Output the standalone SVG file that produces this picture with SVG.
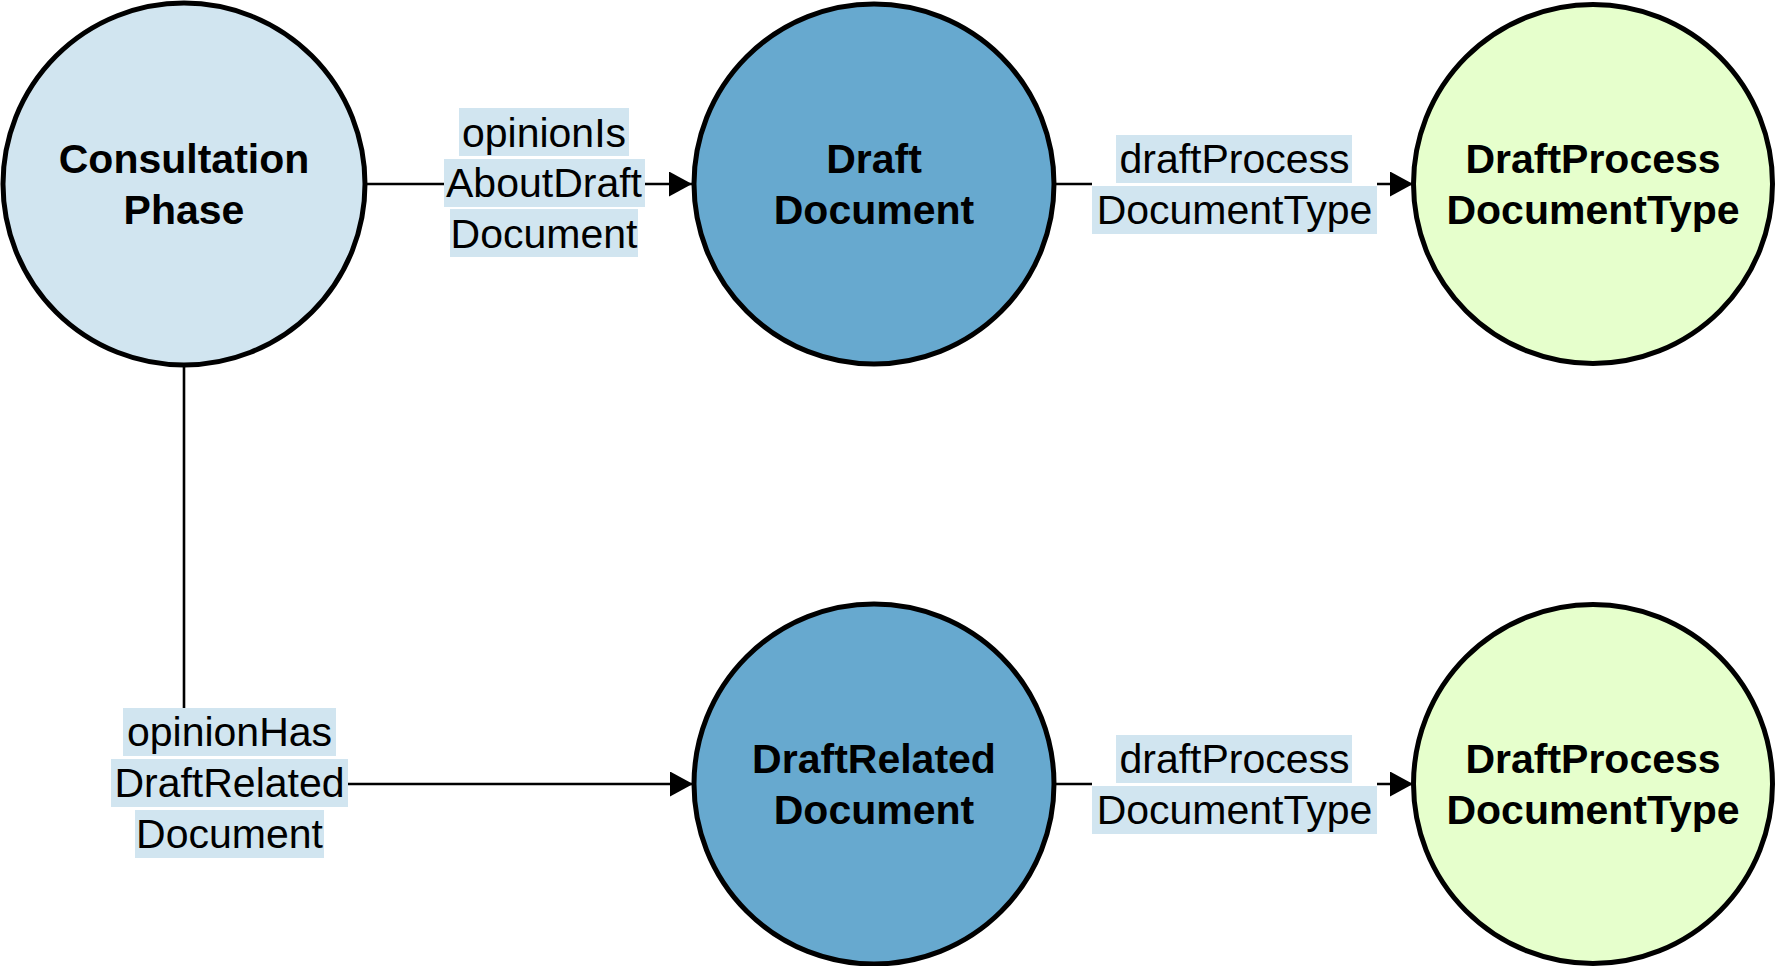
<svg xmlns="http://www.w3.org/2000/svg" width="1776" height="966" viewBox="0 0 1776 966">
<style>
.node{stroke:#000;stroke-width:5}
.c1{fill:#d1e5f0}
.c2{fill:#67a9cf}
.c3{fill:#e6ffcc}
.nt{font-family:"Liberation Sans",Arial,sans-serif;font-size:41px;font-weight:bold;text-anchor:middle;fill:#000}
.lt{font-family:"Liberation Sans",Arial,sans-serif;font-size:41px;text-anchor:middle;fill:#000}
.lb{fill:#d1e5f0}
.bg{fill:#fff}
.edge{stroke:#000;stroke-width:2.6;fill:none}
</style>
<defs>
<marker id="arr" markerUnits="userSpaceOnUse" markerWidth="24" markerHeight="26" refX="23" refY="12.5" orient="auto" viewBox="0 0 24 26">
<path d="M0,0 L23,12.5 L0,25 z" fill="#000"/>
</marker>
</defs>
<rect width="1776" height="966" fill="#fff"/>
<g id="connectors">
<g id="e1">
<line class="edge" x1="366" y1="184" x2="692" y2="184" marker-end="url(#arr)"/>
<rect class="bg" x="444" y="108" width="201" height="149"/>
<rect class="lb" x="459" y="108" width="170" height="48"/>
<rect class="lb" x="444" y="159" width="201" height="48"/>
<rect class="lb" x="450" y="209" width="188" height="48"/>
<text class="lt" x="544" y="147">opinionIs</text>
<text class="lt" x="544" y="197">AboutDraft</text>
<text class="lt" x="544" y="248">Document</text>
</g>
<g id="e2">
<line class="edge" x1="1054" y1="184" x2="1413" y2="184" marker-end="url(#arr)"/>
<rect class="bg" x="1092" y="135" width="285" height="99"/>
<rect class="lb" x="1116" y="135" width="236" height="48"/>
<rect class="lb" x="1092" y="186" width="285" height="48"/>
<text class="lt" x="1234.5" y="173">draftProcess</text>
<text class="lt" x="1234.5" y="224">DocumentType</text>
</g>
<g id="e3">
<path class="edge" d="M184,365 L184,784 L693,784" marker-end="url(#arr)"/>
<rect class="bg" x="111" y="708" width="237" height="150"/>
<rect class="lb" x="123" y="708" width="213" height="48"/>
<rect class="lb" x="111" y="759" width="237" height="48"/>
<rect class="lb" x="135" y="810" width="189" height="48"/>
<text class="lt" x="229.5" y="746">opinionHas</text>
<text class="lt" x="229.5" y="797">DraftRelated</text>
<text class="lt" x="229.5" y="848">Document</text>
</g>
<g id="e4">
<line class="edge" x1="1054" y1="784" x2="1413" y2="784" marker-end="url(#arr)"/>
<rect class="bg" x="1092" y="735" width="285" height="99"/>
<rect class="lb" x="1116" y="735" width="236" height="48"/>
<rect class="lb" x="1092" y="786" width="285" height="48"/>
<text class="lt" x="1234.5" y="773">draftProcess</text>
<text class="lt" x="1234.5" y="824">DocumentType</text>
</g>
</g>
<g id="consultation">
<circle class="node c1" cx="184" cy="184" r="181"/>
<text class="nt" x="184" y="173">Consultation</text>
<text class="nt" x="184" y="224">Phase</text>
</g>
<g id="draftDocument">
<circle class="node c2" cx="874" cy="184" r="180"/>
<text class="nt" x="874" y="173">Draft</text>
<text class="nt" x="874" y="224">Document</text>
</g>
<g id="draftProcessType1">
<circle class="node c3" cx="1593" cy="184" r="179.5"/>
<text class="nt" x="1593" y="173">DraftProcess</text>
<text class="nt" x="1593" y="224">DocumentType</text>
</g>
<g id="draftRelatedDocument">
<circle class="node c2" cx="874" cy="784" r="180"/>
<text class="nt" x="874" y="773">DraftRelated</text>
<text class="nt" x="874" y="824">Document</text>
</g>
<g id="draftProcessType2">
<circle class="node c3" cx="1593" cy="784" r="179.5"/>
<text class="nt" x="1593" y="773">DraftProcess</text>
<text class="nt" x="1593" y="824">DocumentType</text>
</g>
</svg>
